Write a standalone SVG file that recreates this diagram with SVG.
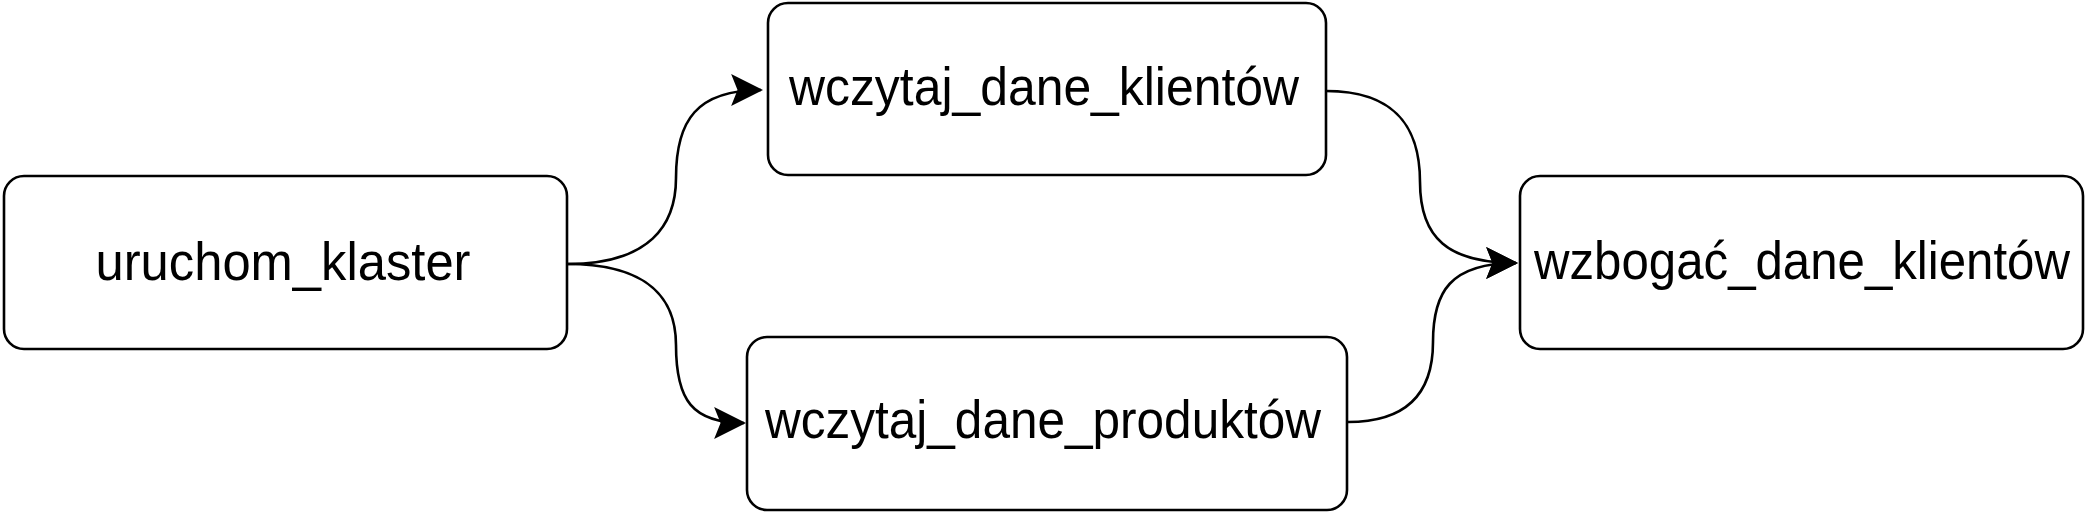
<svg xmlns="http://www.w3.org/2000/svg" width="2087" height="512" viewBox="0 0 2087 512">
<style>
.node rect{fill:#fff;stroke:#000;stroke-width:2.6}
.node text{font-family:"Liberation Sans",Arial,Helvetica,sans-serif;font-size:54px;fill:#000;text-anchor:middle}
.edge{fill:none;stroke:#000;stroke-width:2.6}
</style>
<defs>
<marker id="arrow" markerUnits="userSpaceOnUse" markerWidth="32" markerHeight="32" viewBox="0 0 30 30" refX="28" refY="15" orient="auto">
<path d="M0,0 L30,15 L0,30 L6,15 Z" fill="#000"/>
</marker>
</defs>
<rect width="2087" height="512" fill="#fff"/>
<g id="connectors">
<path class="edge" d="M567,264 C650,264 676,225 676,178 C676,120 697,90 761,90" marker-end="url(#arrow)"/>
<path class="edge" d="M567,264 C650,264 676,300 676,345 C676,400 692,423 744,423" marker-end="url(#arrow)"/>
<path class="edge" d="M1326,91 C1398,91 1420,130 1420,182 C1420,238 1448,263 1516,263" marker-end="url(#arrow)"/>
<path class="edge" d="M1348,422 C1408,422 1433,392 1433,342 C1433,292 1450,263 1516,263" marker-end="url(#arrow)"/>
</g>
<g id="uruchom_klaster" class="node">
<rect x="4" y="176" width="563" height="173" rx="20" ry="20"/>
<text x="283" y="280" textLength="375" lengthAdjust="spacingAndGlyphs">uruchom_klaster</text>
</g>
<g id="wczytaj_dane_klientow" class="node">
<rect x="768" y="3" width="558" height="172" rx="20" ry="20"/>
<text x="1044" y="105" textLength="510" lengthAdjust="spacingAndGlyphs">wczytaj_dane_klientów</text>
</g>
<g id="wczytaj_dane_produktow" class="node">
<rect x="747" y="337" width="600" height="173" rx="20" ry="20"/>
<text x="1043" y="438" textLength="556" lengthAdjust="spacingAndGlyphs">wczytaj_dane_produktów</text>
</g>
<g id="wzbogac_dane_klientow" class="node">
<rect x="1520" y="176" width="563" height="173" rx="20" ry="20"/>
<text x="1802" y="279" textLength="536" lengthAdjust="spacingAndGlyphs">wzbogać_dane_klientów</text>
</g>
</svg>
